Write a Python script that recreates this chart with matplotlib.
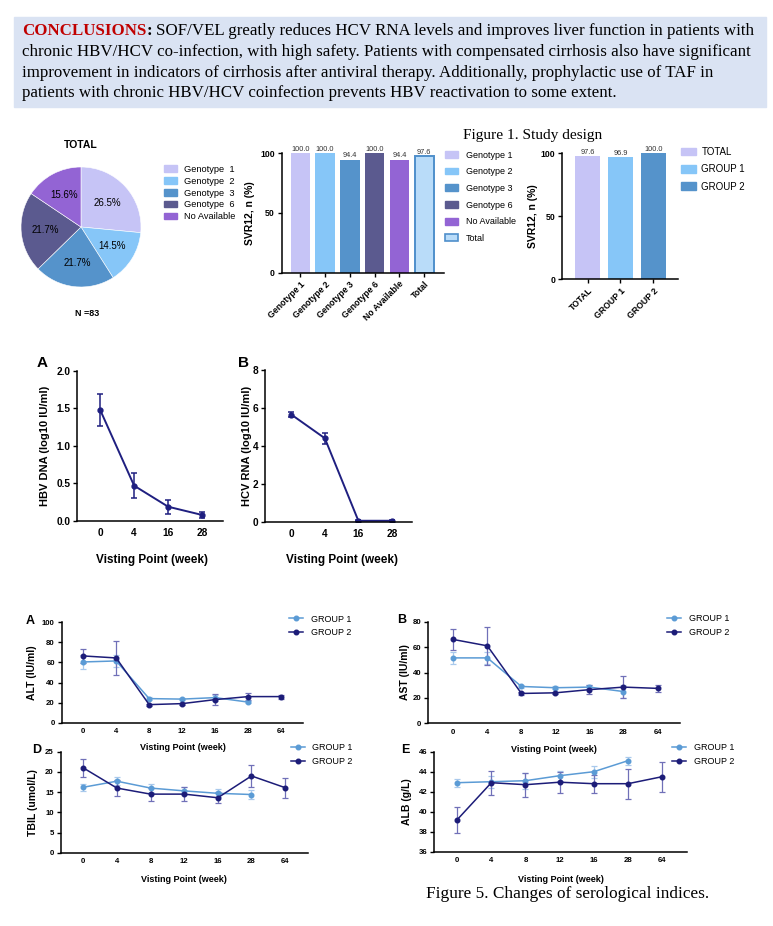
import numpy as np
import matplotlib
matplotlib.use('Agg')
import matplotlib.pyplot as plt
from matplotlib.patches import Patch, Rectangle
from matplotlib.lines import Line2D

plt.rcParams['font.family'] = ['Liberation Sans', 'DejaVu Sans']

# ---- data ----
conclusion_lines = [
    "SOF/VEL greatly reduces HCV RNA levels and improves liver function in patients with",
    "chronic HBV/HCV co-infection, with high safety. Patients with compensated cirrhosis also have significant",
    "improvement in indicators of cirrhosis after antiviral therapy. Additionally, prophylactic use of TAF in",
    "patients with chronic HBV/HCV coinfection prevents HBV reactivation to some extent.",
]

genotypes = ['Genotype  1', 'Genotype  2', 'Genotype  3', 'Genotype  6', 'No Available']
genotype_share = [26.5, 14.5, 21.7, 21.7, 15.6]
genotype_colors = ['#c6c4f6', '#86c6f8', '#5593cb', '#5b5a8f', '#9364d4']

svr_cats = ['Genotype 1', 'Genotype 2', 'Genotype 3', 'Genotype 6', 'No Available', 'Total']
svr_vals = [100.0, 100.0, 94.4, 100.0, 94.4, 97.6]

group_cats = ['TOTAL', 'GROUP 1', 'GROUP 2']
group_svr = [97.6, 96.9, 100.0]
group_colors = ['#c6c4f6', '#86c6f8', '#5593cb']

visit4 = ['0', '4', '16', '28']
hbv_dna = [1.48, 0.47, 0.19, 0.08]
hbv_err = [0.215, 0.17, 0.095, 0.04]
hcv_rna = [5.65, 4.40, 0.05, 0.05]
hcv_err = [0.15, 0.30, 0.03, 0.03]

visit7 = ['0', '4', '8', '12', '16', '28', '64']
alt_g1 = [60.5, 61.5, 24.0, 23.5, 25.0, 20.5]
alt_g1_err = [7.0, 6.0, 1.5, 1.0, 3.0, 1.0]
alt_g2 = [66.5, 64.5, 18.0, 19.0, 23.0, 26.0, 26.0]
alt_g2_err = [7.0, 17.0, 1.0, 1.0, 5.5, 3.5, 2.0]
ast_g1 = [51.5, 51.5, 29.0, 28.0, 28.5, 25.0]
ast_g1_err = [4.5, 4.5, 1.0, 1.0, 1.5, 5.0]
ast_g2 = [66.0, 61.0, 23.5, 24.0, 26.5, 28.5, 27.5]
ast_g2_err = [8.0, 15.0, 1.5, 1.0, 3.5, 8.5, 2.5]
tbil_g1 = [16.2, 17.7, 16.0, 15.3, 14.7, 14.4]
tbil_g1_err = [0.9, 1.0, 1.0, 1.0, 1.0, 1.0]
tbil_g2 = [21.0, 16.0, 14.5, 14.5, 13.6, 19.0, 16.1]
tbil_g2_err = [2.2, 1.9, 1.6, 1.8, 1.4, 2.7, 2.5]
alb_g1 = [42.9, 43.0, 43.1, 43.6, 44.0, 45.1]
alb_g1_err = [0.4, 0.6, 0.8, 0.5, 0.6, 0.4]
alb_g2 = [39.2, 42.9, 42.7, 42.95, 42.8, 42.8, 43.5]
alb_g2_err = [1.3, 1.2, 1.2, 1.05, 0.9, 1.5, 1.5]

NAVY = '#1f1f80'
G1 = '#5b9bd5'
G2 = '#1c1c78'

W, H = 773, 926
fig = plt.figure(figsize=(W / 100, H / 100), dpi=100)


def px_axes(x0, y0, x1, y1):
    return fig.add_axes([x0 / W, 1 - y1 / H, (x1 - x0) / W, (y1 - y0) / H])


def ftext(x, y, s, **kw):
    return fig.text(x / W, 1 - y / H, s, **kw)


def prism(ax, size):
    for s in ['top', 'right']:
        ax.spines[s].set_visible(False)
    for s in ['left', 'bottom']:
        ax.spines[s].set_linewidth(1.1)
    ax.tick_params(length=3, width=1, labelsize=size, pad=2)
    plt.setp(ax.get_xticklabels() + ax.get_yticklabels(), fontweight='bold')


# ---- header box ----
fig.patches.append(Rectangle((14 / W, 1 - 107 / H), 752 / W, 90 / H,
                             transform=fig.transFigure, color='#dae3f3', zorder=0))
serif = 'Liberation Serif'
hs = 12.15
renderer = fig.canvas.get_renderer()
t1 = ftext(22, 31, 'CONCLUSIONS', family=serif, fontsize=hs, fontweight='bold',
           color='#c00000', va='center')
x_end = t1.get_window_extent(renderer).x1
t2 = fig.text(x_end / W, 1 - 31 / H, ':', family=serif, fontsize=hs, fontweight='bold', va='center')
x_end = t2.get_window_extent(renderer).x1
fig.text((x_end + 4) / W, 1 - 31 / H, conclusion_lines[0], family=serif, fontsize=hs, va='center')
for i, line in enumerate(conclusion_lines[1:]):
    ftext(22, 52 + 20.7 * i, line, family=serif, fontsize=hs, va='center')

# ---- pie ----
ax = px_axes(21, 167, 141, 287)
ax.pie(genotype_share, colors=genotype_colors, startangle=90, counterclock=False,
       autopct='%.1f%%', pctdistance=0.6, textprops={'fontsize': 7},
       wedgeprops={'linewidth': 0.4, 'edgecolor': 'white'})
ax.set_xlim(-1, 1)
ax.set_ylim(-1, 1)
ax.set_aspect('auto')
ftext(81, 145, 'TOTAL', ha='center', va='center', fontsize=7.5, fontweight='bold')
ftext(87, 313, 'N =83', ha='center', va='center', fontsize=6.5, fontweight='bold')
handles = [Patch(color=c, label=g) for c, g in zip(genotype_colors, genotypes)]
fig.legend(handles=handles, loc='upper left', bbox_to_anchor=(164 / W, 1 - 165 / H),
           frameon=False, fontsize=6.7, handlelength=1.4, handleheight=0.7,
           handletextpad=0.8, labelspacing=0.3, borderpad=0, borderaxespad=0)

# ---- SVR12 by genotype ----
ax = px_axes(281.7, 153.3, 444, 272.7)
x = np.arange(len(svr_cats))
cols = genotype_colors + ['#b9dcf9']
bars = ax.bar(x, svr_vals, width=0.78, color=cols)
bars[-1].set_edgecolor('#4f8fcb')
bars[-1].set_linewidth(1.4)
for xi, v in zip(x, svr_vals):
    ax.text(xi, v + 0.5, f'{v:.1f}', ha='center', va='bottom', fontsize=5.3, color='#333333')
ax.set_xlim(-0.75, 5.8)
ax.set_ylim(0, 100)
ax.set_yticks([0, 50, 100])
ax.set_xticks(x)
ax.set_xticklabels(svr_cats, rotation=45, ha='right', rotation_mode='anchor')
prism(ax, 6.3)
ax.set_ylabel('SVR12, n (%)', fontsize=7.5, fontweight='bold', labelpad=4)
handles = [Patch(color=c, label=l) for c, l in zip(genotype_colors, svr_cats[:5])]
handles.append(Patch(facecolor='#b9dcf9', edgecolor='#4f8fcb', linewidth=1.2, label='Total'))
fig.legend(handles=handles, loc='upper left', bbox_to_anchor=(445 / W, 1 - 150.5 / H),
           frameon=False, fontsize=6.5, handlelength=1.4, handleheight=0.8,
           handletextpad=0.9, labelspacing=0.85, borderpad=0, borderaxespad=0)

ftext(462.7, 136, 'Figure 1. Study design', family=serif, fontsize=11.1, va='center')

# ---- SVR12 by group ----
ax = px_axes(562.3, 153.3, 678.3, 279.3)
x = np.arange(len(group_cats))
ax.bar(x, group_svr, width=0.76, color=group_colors)
for xi, v in zip(x, group_svr):
    ax.text(xi, v + 0.5, f'{v:.1f}', ha='center', va='bottom', fontsize=5.3, color='#333333')
ax.set_xlim(-0.77, 2.76)
ax.set_ylim(0, 100)
ax.set_yticks([0, 50, 100])
ax.set_xticks(x)
ax.set_xticklabels(group_cats, rotation=45, ha='right', rotation_mode='anchor')
prism(ax, 6.3)
ax.set_ylabel('SVR12, n (%)', fontsize=7.5, fontweight='bold', labelpad=2)
handles = [Patch(color=c, label=l) for c, l in zip(group_colors, group_cats)]
fig.legend(handles=handles, loc='upper left', bbox_to_anchor=(681 / W, 1 - 147 / H),
           frameon=False, fontsize=7, handlelength=1.5, handleheight=0.8,
           handletextpad=0.6, labelspacing=0.75, borderpad=0, borderaxespad=0)

# ---- HBV DNA / HCV RNA ----
ax = px_axes(77.3, 370.7, 223.3, 521)
x = np.arange(len(visit4))
ax.errorbar(x, hbv_dna, yerr=hbv_err, color=NAVY, marker='o', ms=3.5, lw=1.4,
            capsize=2.5, elinewidth=1.1, capthick=1.1)
ax.set_xlim(-0.67, 3.62)
ax.set_ylim(0, 2)
ax.set_yticks([0, 0.5, 1.0, 1.5, 2.0])
ax.set_yticklabels(['0.0', '0.5', '1.0', '1.5', '2.0'])
ax.set_xticks(x)
ax.set_xticklabels(visit4)
prism(ax, 7.3)
ax.tick_params(axis='x', length=0, pad=5)
ftext(45, 446, 'HBV DNA (log10 IU/ml)', rotation=90, ha='center', va='center',
      fontsize=8, fontweight='bold')
ftext(151.7, 560, 'Visting Point (week)', ha='center', va='center', fontsize=8.5, fontweight='bold')
ftext(41.7, 363, 'A', ha='center', va='center', fontsize=11, fontweight='bold')

ax = px_axes(265, 370, 412, 521.7)
ax.errorbar(x, hcv_rna, yerr=hcv_err, color=NAVY, marker='o', ms=3.5, lw=1.4,
            capsize=2.5, elinewidth=1.1, capthick=1.1)
ax.set_xlim(-0.785, 3.6)
ax.set_ylim(0, 8)
ax.set_yticks([0, 2, 4, 6, 8])
ax.set_xticks(x)
ax.set_xticklabels(visit4)
prism(ax, 7.3)
ax.tick_params(axis='x', length=0, pad=5)
ftext(246.7, 446, 'HCV RNA (log10 IU/ml)', rotation=90, ha='center', va='center',
      fontsize=8, fontweight='bold')
ftext(341.7, 560, 'Visting Point (week)', ha='center', va='center', fontsize=8.5, fontweight='bold')
ftext(243.3, 363, 'B', ha='center', va='center', fontsize=11, fontweight='bold')


# ---- serological indices ----
def sero_panel(box, xlim, ylim, yticks, g1, g1e, g2, g2e, ylab, ylab_x, xlab_y,
               letter, letter_xy, leg_xy):
    ax = px_axes(*box)
    x1 = np.arange(len(g1))
    x2 = np.arange(len(g2))
    ax.errorbar(x1, g1, yerr=g1e, color=G1, marker='o', ms=3.3, lw=1.1,
                ecolor='#a9c9ec', capsize=2.2, elinewidth=0.9, capthick=0.9)
    ax.errorbar(x2, g2, yerr=g2e, color=G2, marker='o', ms=3.3, lw=1.1,
                ecolor='#7070b8', capsize=2.2, elinewidth=0.9, capthick=0.9)
    ax.set_xlim(*xlim)
    ax.set_ylim(*ylim)
    ax.set_yticks(yticks)
    ax.set_xticks(np.arange(len(visit7)))
    ax.set_xticklabels(visit7)
    prism(ax, 5.6)
    ax.tick_params(axis='x', length=0, pad=4)
    x0, _, x1_, y1 = box
    ftext(ylab_x, (box[1] + y1) / 2, ylab, rotation=90, ha='center', va='center',
          fontsize=7.5, fontweight='bold')
    ftext((x0 + x1_) / 2, xlab_y, 'Visting Point (week)', ha='center', va='center',
          fontsize=6.5, fontweight='bold')
    ftext(letter_xy[0], letter_xy[1], letter, ha='center', va='center',
          fontsize=9, fontweight='bold')
    handles = [Line2D([], [], color=G1, marker='o', ms=3.3, lw=1.1, label='GROUP 1'),
               Line2D([], [], color=G2, marker='o', ms=3.3, lw=1.1, label='GROUP 2')]
    fig.legend(handles=handles, loc='upper left',
               bbox_to_anchor=(leg_xy[0] / W, 1 - leg_xy[1] / H),
               frameon=False, fontsize=6.5, handlelength=1.6, handletextpad=0.8,
               labelspacing=0.55, borderpad=0, borderaxespad=0)


sero_panel((61.7, 622.3, 303.3, 722.7), (-0.65, 6.67), (0, 100), [0, 20, 40, 60, 80, 100],
           alt_g1, alt_g1_err, alt_g2, alt_g2_err, 'ALT (IU/ml)', 31.7, 748,
           'A', (30, 621), (289, 614.5))
sero_panel((428.3, 621.7, 680, 723.3), (-0.735, 6.66), (0, 80), [0, 20, 40, 60, 80],
           ast_g1, ast_g1_err, ast_g2, ast_g2_err, 'AST (IU/ml)', 405, 750,
           'B', (401.7, 620), (667, 614))
sero_panel((60.7, 751.7, 308, 852.7), (-0.67, 6.68), (0, 25), [0, 5, 10, 15, 20, 25],
           tbil_g1, tbil_g1_err, tbil_g2, tbil_g2_err, 'TBIL (umol/L)', 33.3, 879,
           'D', (36.7, 750), (290.5, 743))
sero_panel((434.3, 751.7, 686.7, 851.7), (-0.67, 6.72), (36, 46), [36, 38, 40, 42, 44, 46],
           alb_g1, alb_g1_err, alb_g2, alb_g2_err, 'ALB (g/L)', 406.7, 879,
           'E', (405, 750), (672, 743))

ftext(568, 894, 'Figure 5. Changes of serological indices.', family=serif, fontsize=12.4,
      ha='center', va='center')

fig.savefig('out.png', dpi=100)
